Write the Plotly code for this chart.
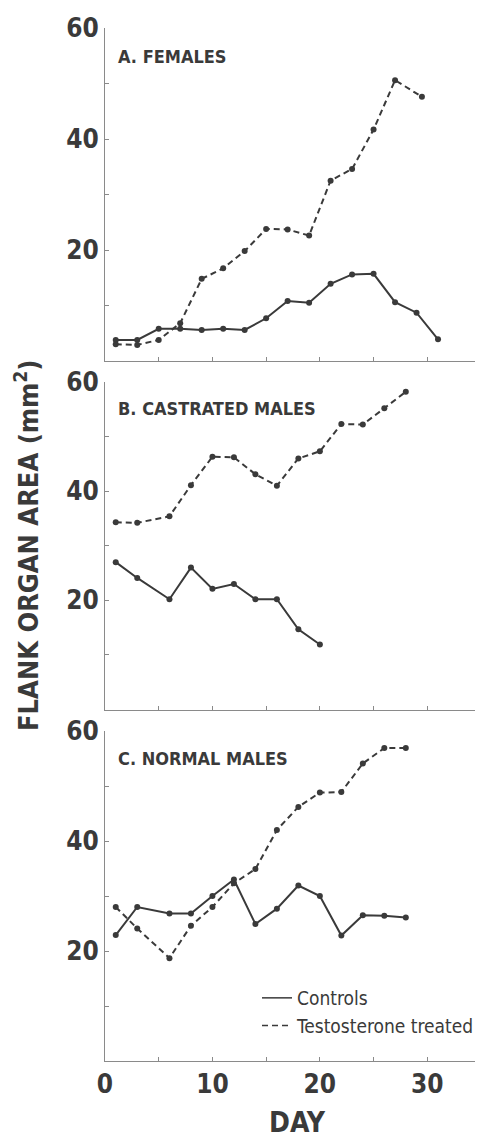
import plotly.graph_objects as go

# ---------------- data ----------------
panel_titles = ["A. FEMALES", "B. CASTRATED MALES", "C. NORMAL MALES"]

days_A_ctrl = [1, 3, 5, 7, 9, 11, 13, 15, 17, 19, 21, 23, 25, 27, 29, 31]
area_A_ctrl = [3.8, 3.8, 5.8, 5.8, 5.6, 5.8, 5.6, 7.7, 10.8, 10.5, 13.9, 15.6, 15.7, 10.6, 8.7, 3.9]
days_A_test = [1, 3, 5, 7, 9, 11, 13, 15, 17, 19, 21, 23, 25, 27, 29.5]
area_A_test = [3.0, 2.9, 3.8, 6.8, 14.8, 16.7, 19.8, 23.8, 23.7, 22.6, 32.5, 34.6, 41.7, 50.6, 47.6]

days_B_ctrl = [1, 3, 6, 8, 10, 12, 14, 16, 18, 20]
area_B_ctrl = [27.0, 24.1, 20.2, 26.0, 22.1, 23.0, 20.2, 20.2, 14.7, 11.9]
days_B_test = [1, 3, 6, 8, 10, 12, 14, 16, 18, 20, 22, 24, 26, 28]
area_B_test = [34.3, 34.2, 35.4, 41.1, 46.3, 46.2, 43.1, 41.0, 46.0, 47.3, 52.3, 52.2, 55.2, 58.2]

days_C_ctrl = [1, 3, 6, 8, 10, 12, 14, 16, 18, 20, 22, 24, 26, 28]
area_C_ctrl = [22.9, 28.0, 26.8, 26.8, 30.0, 33.0, 24.9, 27.7, 31.9, 30.0, 22.8, 26.5, 26.4, 26.1]
days_C_test = [1, 3, 6, 8, 10, 12, 14, 16, 18, 20, 22, 24, 26, 28]
area_C_test = [28.0, 24.1, 18.7, 24.6, 28.0, 32.3, 34.9, 42.0, 46.2, 48.8, 48.9, 54.1, 56.9, 56.9]

x_tickvals = [0, 5, 10, 15, 20, 25, 30, 35]
x_ticktext = ["0", "", "10", "", "20", "", "30", ""]
y_tickvals = [0, 10, 20, 30, 40, 50, 60]
y_ticktext = ["", "", "20", "", "40", "", "60"]

legend_names = ["Controls", "Testosterone treated"]

# ---------------- figure ----------------
FONT = "DejaVu Sans Condensed, Liberation Sans Narrow, sans-serif"
INK = "#3a3a3a"
AXIS = "#8a8a8a"

fig = go.Figure()

panels = [
    (days_A_ctrl, area_A_ctrl, days_A_test, area_A_test, "x", "y"),
    (days_B_ctrl, area_B_ctrl, days_B_test, area_B_test, "x2", "y2"),
    (days_C_ctrl, area_C_ctrl, days_C_test, area_C_test, "x3", "y3"),
]

for dc, ac, dt, at, xa, ya in panels:
    fig.add_trace(go.Scatter(
        x=dc, y=ac, xaxis=xa, yaxis=ya, mode="lines+markers",
        line=dict(color=INK, width=2),
        marker=dict(color=INK, size=6), showlegend=False))
    fig.add_trace(go.Scatter(
        x=dt, y=at, xaxis=xa, yaxis=ya, mode="lines+markers",
        line=dict(color=INK, width=2, dash="6px,4px"),
        marker=dict(color=INK, size=6), showlegend=False))

# legend entries (line samples only)
fig.add_trace(go.Scatter(x=[None], y=[None], xaxis="x3", yaxis="y3", mode="lines",
                         name=legend_names[0], line=dict(color=INK, width=1.5)))
fig.add_trace(go.Scatter(x=[None], y=[None], xaxis="x3", yaxis="y3", mode="lines",
                         name=legend_names[1], line=dict(color=INK, width=1.5, dash="6px,4px")))

H_PLOT = 1033.0
W_PLOT = 376.0
def dom(top_px, bot_px):
    return [(1061 - bot_px) / H_PLOT, (1061 - top_px) / H_PLOT]

domains = [dom(28, 361), dom(382, 709.5), dom(731, 1061)]

xax_common = dict(range=[0, 35], tickmode="array", tickvals=x_tickvals, ticktext=x_ticktext,
                  showline=True, linecolor=AXIS, linewidth=1, ticks="inside", ticklen=4,
                  tickcolor=AXIS, showgrid=False, zeroline=False,
                  tickfont=dict(family=FONT, size=26, color=INK, weight="bold"))
yax_common = dict(range=[0, 60], tickmode="array", tickvals=y_tickvals, ticktext=y_ticktext,
                  showline=True, linecolor=AXIS, linewidth=1, ticks="inside", ticklen=4,
                  tickcolor=AXIS, showgrid=False, zeroline=False,
                  tickfont=dict(family=FONT, size=26, color=INK, weight="bold"))

# page body has an 8px margin; figure is offset by it
fig.update_layout(
    width=475, height=1131,
    margin=dict(l=97, r=2, t=20, b=78),
    paper_bgcolor="white", plot_bgcolor="white",
    xaxis=dict(**{**xax_common, "showticklabels": False}, anchor="y"),
    xaxis2=dict(**{**xax_common, "showticklabels": False}, anchor="y2"),
    xaxis3=dict(**xax_common, anchor="y3"),
    yaxis=dict(**yax_common, domain=domains[0], anchor="x"),
    yaxis2=dict(**yax_common, domain=domains[1], anchor="x2"),
    yaxis3=dict(**yax_common, domain=domains[2], anchor="x3"),
    legend=dict(x=(257 - 105) / W_PLOT, y=(1061 - 979) / H_PLOT, xanchor="left", yanchor="top",
                bgcolor="rgba(0,0,0,0)", font=dict(family=FONT, size=19, color=INK),
                tracegroupgap=0, itemwidth=30),
    showlegend=True,
)

title_y = [0.915, 0.92, 0.918]
for i, (t, ya) in enumerate(zip(panel_titles, ["y", "y2", "y3"])):
    xr = ["x", "x2", "x3"][i]
    fig.add_annotation(text="<b>" + t + "</b>", xref=xr + " domain", yref=ya + " domain",
                       x=0.03, y=title_y[i], xanchor="left", yanchor="middle",
                       showarrow=False, font=dict(family=FONT, size=18, color=INK))

fig.add_annotation(text="<b>FLANK ORGAN AREA (mm<sup>2</sup>)</b>", xref="paper", yref="paper",
                   x=(26 - 105) / W_PLOT, y=(1061 - 546) / H_PLOT, textangle=-90,
                   xanchor="center", yanchor="middle", showarrow=False,
                   font=dict(family=FONT, size=27, color=INK))
fig.add_annotation(text="<b>DAY</b>", xref="paper", yref="paper",
                   x=(297 - 105) / W_PLOT, y=(1061 - 1122) / H_PLOT,
                   xanchor="center", yanchor="middle", showarrow=False,
                   font=dict(family=FONT, size=28, color=INK))

fig.write_html("out.html")
